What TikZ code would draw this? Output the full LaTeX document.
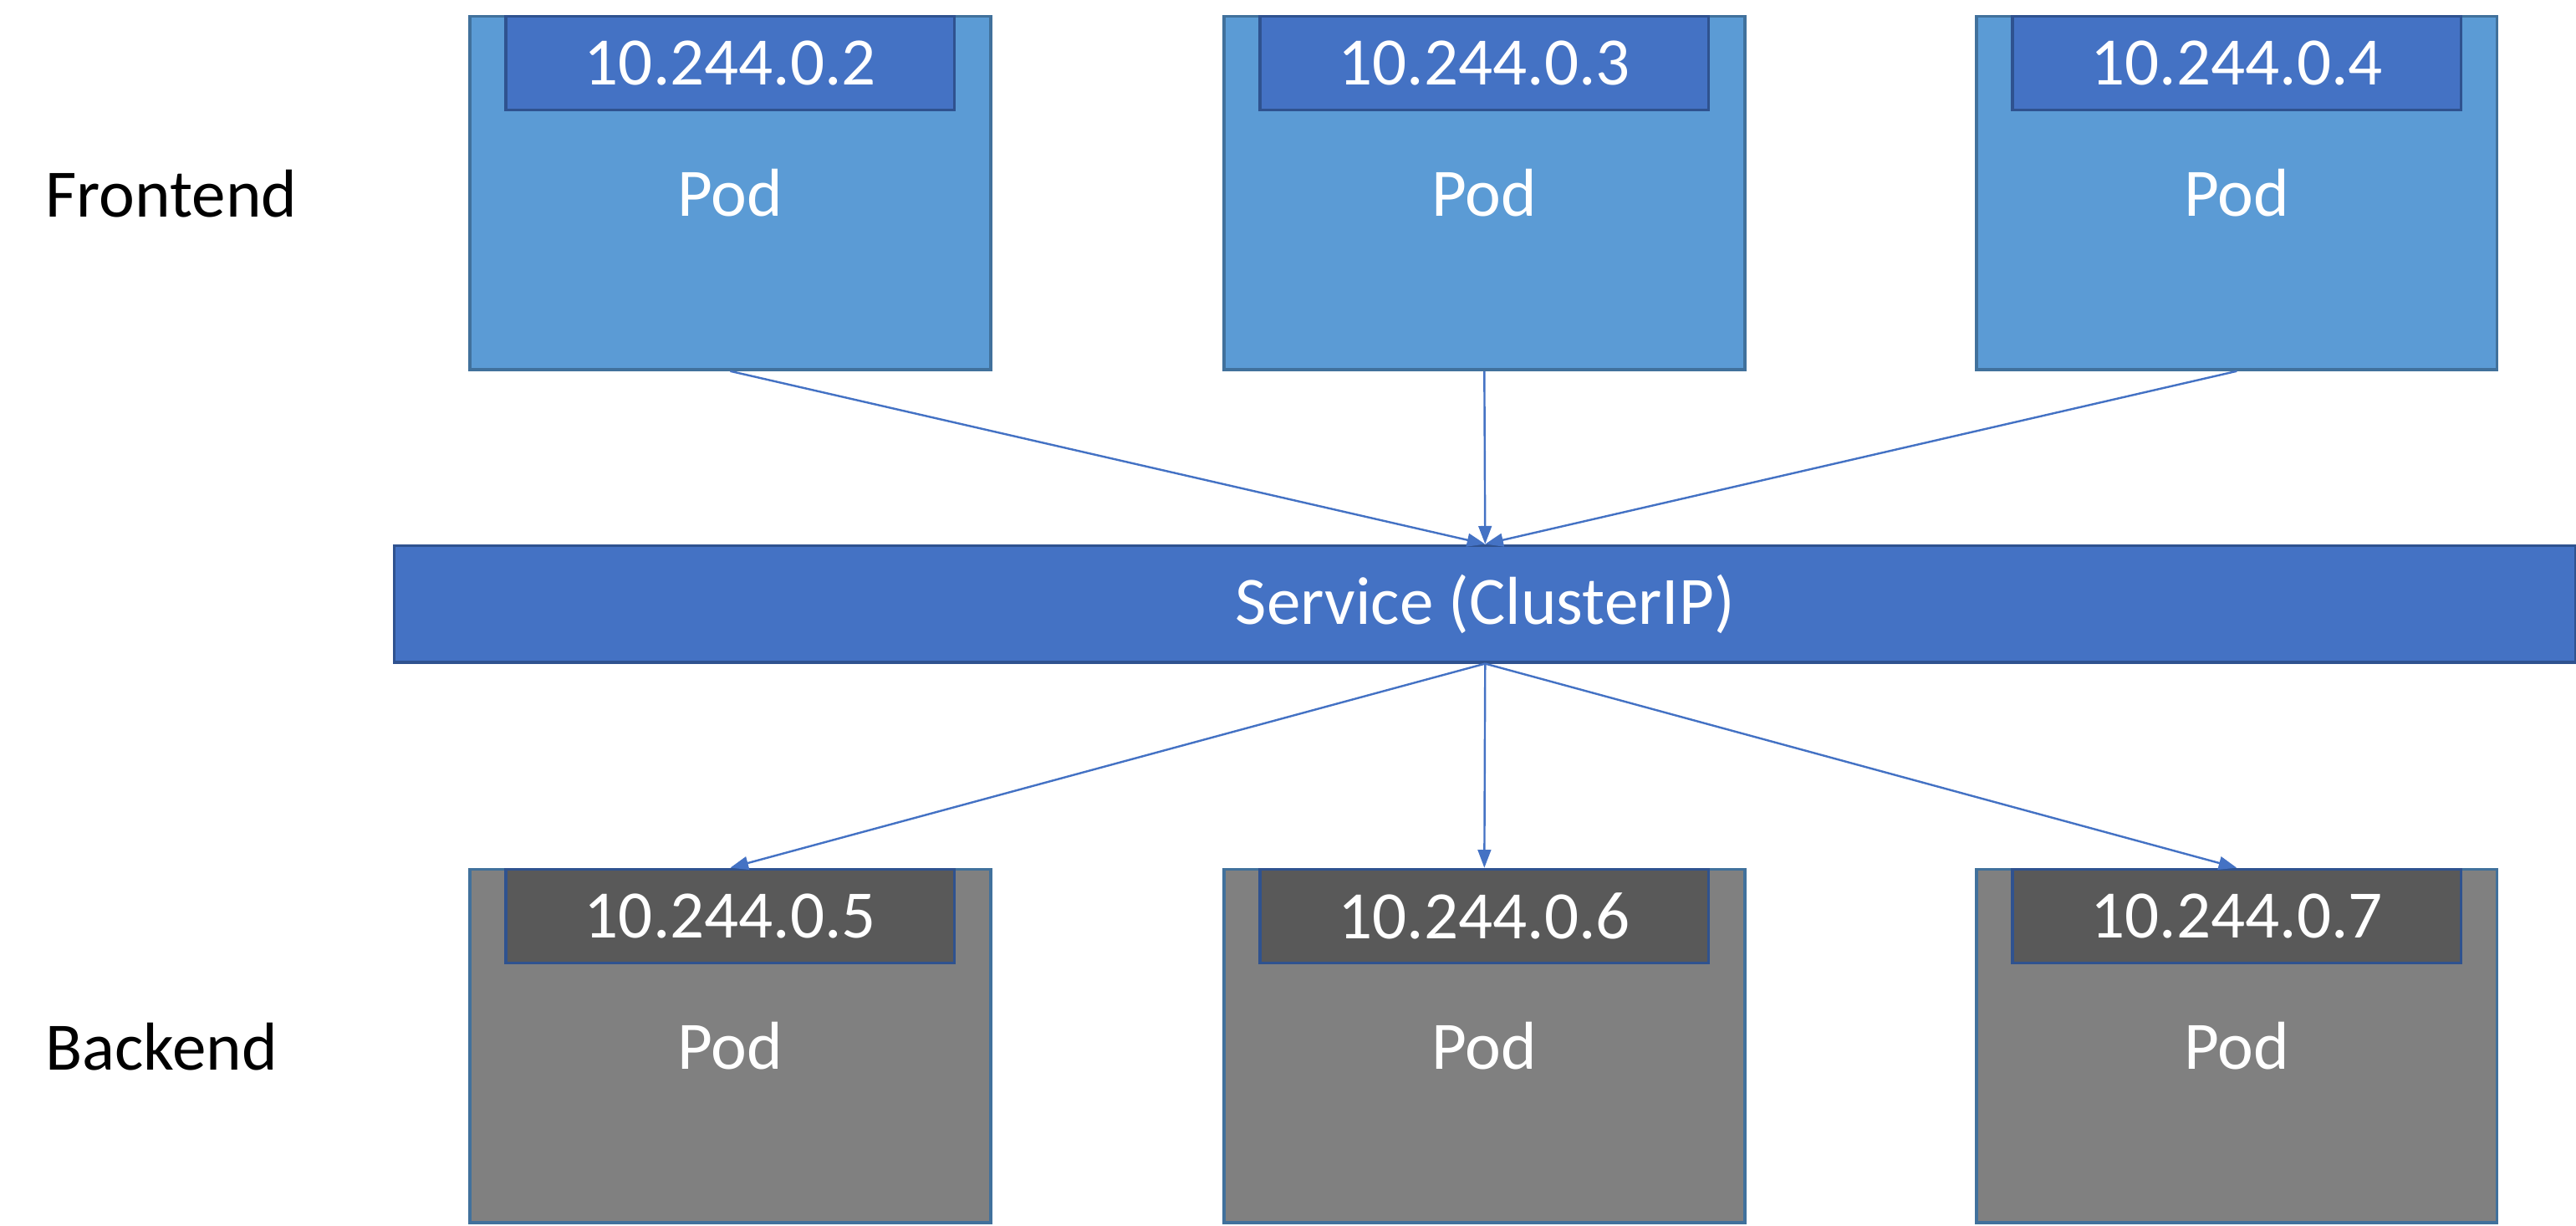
\documentclass[tikz,border=0pt]{standalone}
\usepackage{fontspec}
\setmainfont{Carlito}
\usetikzlibrary{arrows.meta}
\definecolor{podblue}{HTML}{5B9BD5}
\definecolor{podedge}{HTML}{41719C}
\definecolor{ipblue}{HTML}{4472C4}
\definecolor{ipedge}{HTML}{2F528F}
\definecolor{podgray}{HTML}{808080}
\definecolor{ipgray}{HTML}{595959}

\begin{document}
\begin{tikzpicture}[
    every node/.style={font=\fontsize{11.75}{14}\selectfont},
    pod/.style={draw=podedge, line width=0.5pt, minimum width=3.17cm, minimum height=2.15cm, text=white},
    ipbox/.style={draw=ipedge, line width=0.5pt, minimum width=2.73cm, minimum height=0.57cm, text=white, anchor=north},
    link/.style={draw=ipblue, line width=0.35pt, -{Triangle[length=0.11cm,width=0.08cm]}}
  ]
    \useasboundingbox (0,0) rectangle (15.68,7.46);
    % side labels
    \node[anchor=west, inner sep=0] (fetext) at (0.27,6.28) {Frontend};
    \node[anchor=west, inner sep=0] (betext) at (0.27,1.09) {Backend};
    % frontend pods
    \node[pod, fill=podblue] (fe1) at (4.445,6.285) {Pod};
    \node[pod, fill=podblue] (fe2) at (9.035,6.285) {Pod};
    \node[pod, fill=podblue] (fe3) at (13.615,6.285) {Pod};
    \node[ipbox, fill=ipblue] (fe1ip) at (fe1.north) {10.244.0.2};
    \node[ipbox, fill=ipblue] (fe2ip) at (fe2.north) {10.244.0.3};
    \node[ipbox, fill=ipblue] (fe3ip) at (fe3.north) {10.244.0.4};
    % service
    \node[draw=ipedge, line width=0.5pt, fill=ipblue, text=white,
          minimum width=13.28cm, minimum height=0.71cm] (svc) at (9.04,3.785) {Service (ClusterIP)};
    % backend pods
    \node[pod, fill=podgray] (be1) at (4.445,1.095) {Pod};
    \node[pod, fill=podgray] (be2) at (9.035,1.095) {Pod};
    \node[pod, fill=podgray] (be3) at (13.615,1.095) {Pod};
    \node[ipbox, fill=ipgray] (be1ip) at (be1.north) {10.244.0.5};
    \node[ipbox, fill=ipgray] (be2ip) at (be2.north) {10.244.0.6};
    \node[ipbox, fill=ipgray] (be3ip) at (be3.north) {10.244.0.7};
    % connectors
    \draw[link] (fe1.south) -- (svc.north);
    \draw[link] (fe2.south) -- (svc.north);
    \draw[link] (fe3.south) -- (svc.north);
    \draw[link] (svc.south) -- (be1ip.north);
    \draw[link] (svc.south) -- (be2ip.north);
    \draw[link] (svc.south) -- (be3ip.north);
  \end{tikzpicture}
\end{document}
